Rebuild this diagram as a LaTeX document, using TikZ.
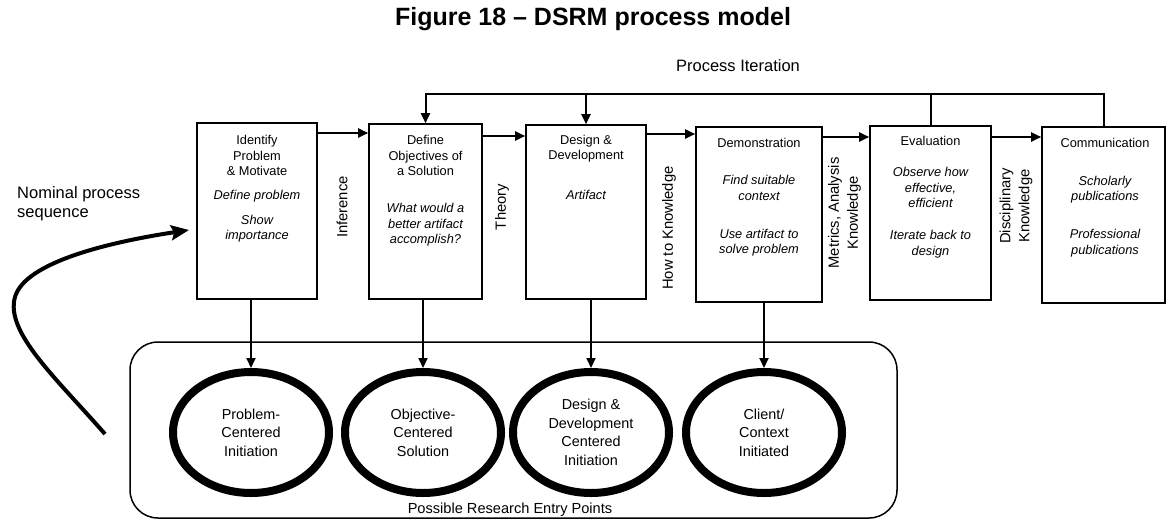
\documentclass[tikz,border=0pt]{standalone}
\usepackage{fontspec}
\setmainfont{Liberation Sans}
\usetikzlibrary{arrows.meta,shapes.geometric}
\begin{document}
\begin{tikzpicture}[x=1pt,y=-1pt,
  procbox/.style={draw, line width=1.6pt, rectangle, inner sep=0pt},
  boxhead/.style={align=center, inner sep=0pt, font=\fontsize{12.8}{15.5}\selectfont},
  boxnote/.style={align=center, inner sep=0pt, font=\fontsize{12.8}{15.5}\selectfont\itshape},
  sidelabel/.style={rotate=90, align=center, inner sep=0pt, font=\fontsize{14.8}{19}\selectfont},
  entrypt/.style={draw, ellipse, line width=8pt, minimum width=156pt, minimum height=121pt,
    inner sep=0pt, align=center, font=\fontsize{14.4}{18.5}\selectfont},
  conn/.style={line width=2pt, -{Triangle[length=10pt,width=9pt]}},
  plainline/.style={line width=2pt},
]
\useasboundingbox (0,0) rectangle (1167,520);

% title and captions
\node[font=\fontsize{25}{30}\selectfont\bfseries] (title) at (593,19) {Figure 18 -- DSRM process model};
\node[font=\fontsize{16.5}{19}\selectfont] (iterlbl) at (738,66) {Process Iteration};
\node[anchor=north west, align=left, inner sep=0pt, font=\fontsize{16.5}{19}\selectfont] (nominal) at (17,186) {Nominal process\\sequence};

% process activities
\node[procbox, minimum width=120pt, minimum height=176pt] (b1) at (257,211) {};
\node[procbox, minimum width=113pt, minimum height=175pt] (b2) at (425.5,211.5) {};
\node[procbox, minimum width=120pt, minimum height=174pt] (b3) at (586,212) {};
\node[procbox, minimum width=126pt, minimum height=175pt] (b4) at (759,214.5) {};
\node[procbox, minimum width=121pt, minimum height=174pt] (b5) at (930.5,213) {};
\node[procbox, minimum width=123pt, minimum height=176pt] (b6) at (1103.5,215) {};

% activity texts
\node[boxhead] (h1) at (257,155.5) {Identify\\Problem\\\& Motivate};
\node[boxnote] (n1) at (257,216) {Define problem\\[9.5pt]Show\\importance};
\node[boxhead] (h2) at (425.5,155.5) {Define\\Objectives of\\a Solution};
\node[boxnote] (n2) at (425.5,225) {What would a\\better artifact\\accomplish?};
\node[boxhead] (h3) at (586,148.5) {Design \&\\Development};
\node[boxnote] (n3) at (586,195) {Artifact};
\node[boxhead] (h4) at (759,143) {Demonstration};
\node[boxnote] (n4) at (759,216) {Find suitable\\context\\[22.5pt]Use artifact to\\solve problem};
\node[boxhead] (h5) at (930.5,141) {Evaluation};
\node[boxnote] (n5) at (930.5,212.5) {Observe how\\effective,\\efficient\\[16.5pt]Iterate back to\\design};
\node[boxhead] (h6) at (1105,143) {Communication};
\node[boxnote] (n6) at (1105,216.5) {Scholarly\\publications\\[22.5pt]Professional\\publications};

% knowledge labels between activities
\node[sidelabel] (k1) at (342,207) {Inference};
\node[sidelabel] (k2) at (502,207) {Theory};
\node[sidelabel] (k3) at (669,228) {How to Knowledge};
\node[sidelabel] (k4) at (844.5,213) {Metrics, Analysis\\Knowledge};
\node[sidelabel] (k5) at (1016,206) {Disciplinary\\Knowledge};

% sequence arrows
\draw[conn] (b1.east |- 0,133) -- (b2.west |- 0,133);
\draw[conn] (b2.east |- 0,136) -- (b3.west |- 0,136);
\draw[conn] (b3.east |- 0,134) -- (b4.west |- 0,134);
\draw[conn] (b4.east |- 0,137) -- (b5.west |- 0,137);
\draw[conn] (b5.east |- 0,137) -- (b6.west |- 0,137);

% process iteration loop
\coordinate (itr) at (0,94);
\draw[conn] (b6.north) -- (b6.north |- itr) -- (b2.north |- itr) -- (b2.north);
\draw[conn] (b3.north |- itr) -- (b3.north);
\draw[plainline] (b5.north |- itr) -- (b5.north);

% research entry points
\node[draw, line width=1.5pt, rounded corners=28pt, minimum width=767pt, minimum height=176pt, inner sep=0pt] (entry) at (513.5,430) {};
\node[font=\fontsize{14.6}{18}\selectfont] (entrylbl) at (510,510) {Possible Research Entry Points};
\node[entrypt] (e1) at (251,432.5) {Problem-\\Centered\\Initiation};
\node[entrypt] (e2) at (423,432.5) {Objective-\\Centered\\Solution};
\node[entrypt] (e3) at (591,432.5) {Design \&\\Development\\Centered\\Initiation};
\node[entrypt] (e4) at (764,432.5) {Client/\\Context\\Initiated};

\draw[conn] (b1.south -| e1.north) -- (e1.north);
\draw[conn] (b2.south -| e2.north) -- (e2.north);
\draw[conn] (b3.south -| e3.north) -- (e3.north);
\draw[conn] (b4.south -| e4.north) -- (e4.north);

% nominal process sequence
\coordinate (nomStart) at (105,434);
\coordinate (nomEnd) at (189,230);
\draw[line width=4pt, -{Stealth[length=18pt,width=15pt,inset=3pt]}]
  (nomStart) .. controls (55,377) and (5,332) .. (15,297)
  .. controls (25,262) and (110,242) .. (nomEnd);
\end{tikzpicture}
\end{document}
